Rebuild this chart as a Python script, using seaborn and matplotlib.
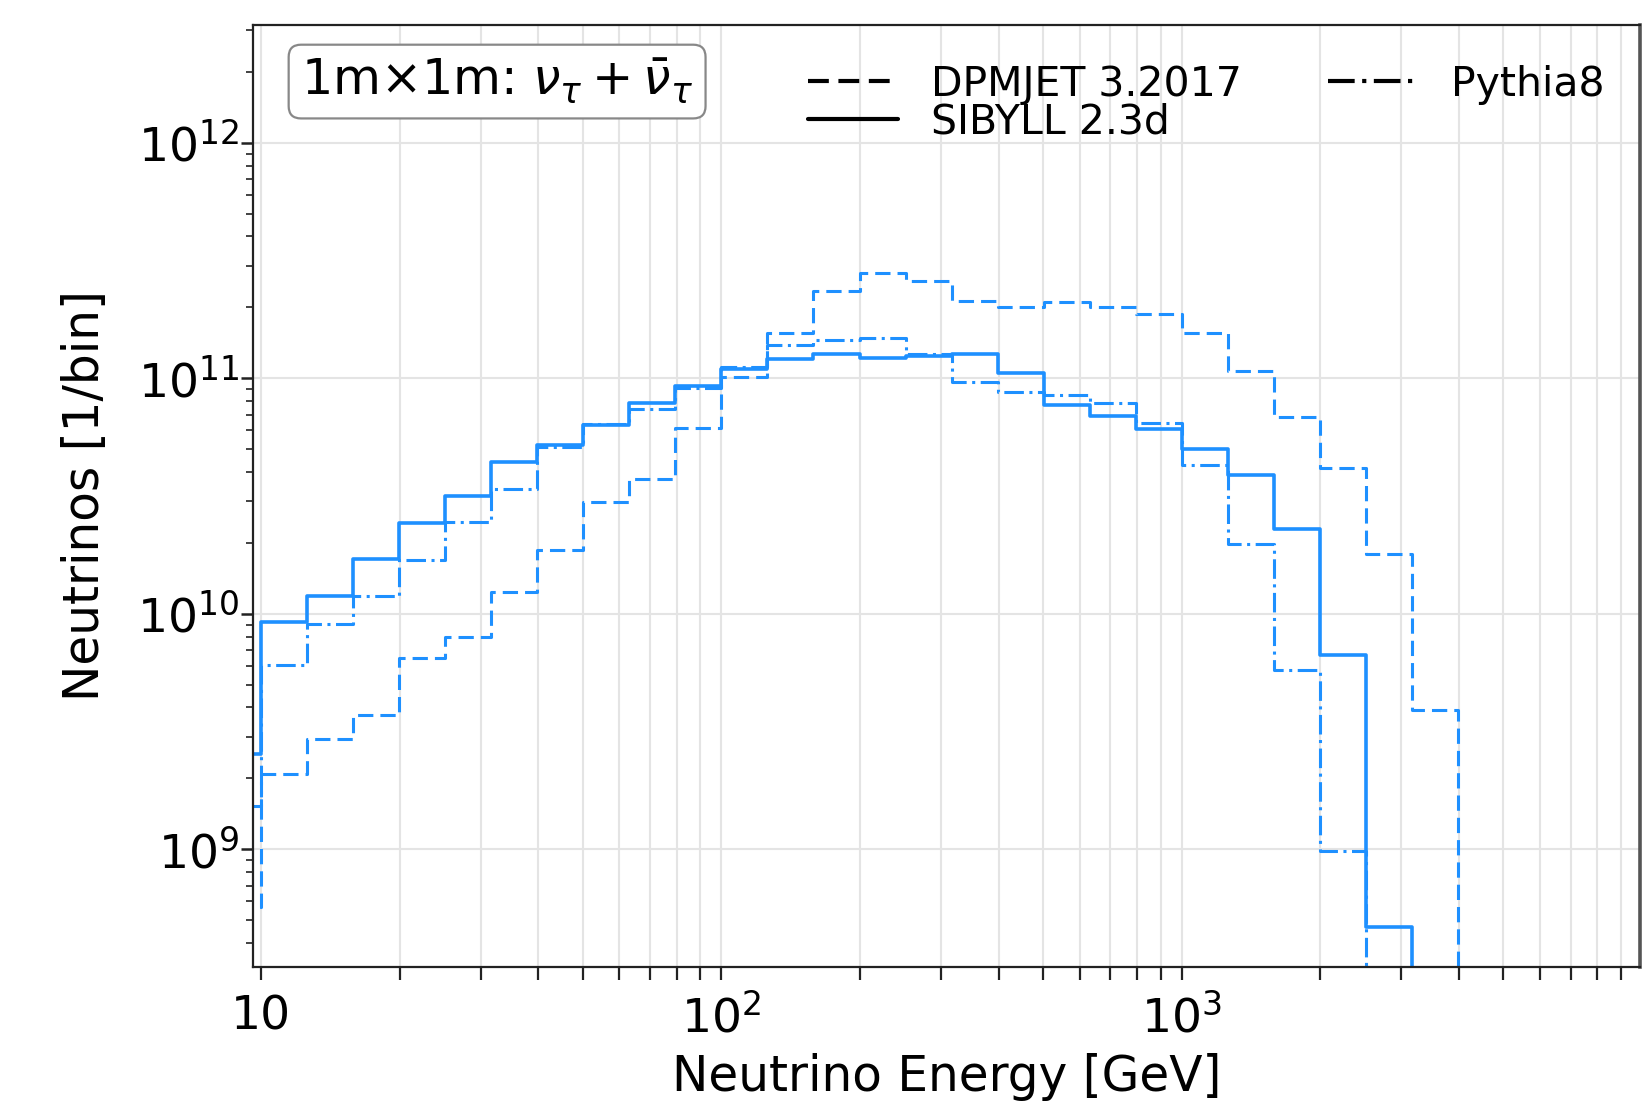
import numpy as np
import pandas as pd
import matplotlib
matplotlib.use("Agg")
import matplotlib.pyplot as plt
from matplotlib.lines import Line2D
import seaborn as sns

# Energy bins: ten log-spaced bins per decade, starting at 10^0.9 GeV
bin_edges = np.logspace(0.9, 3.6, 28)

# Neutrino counts per bin for each event generator
sibyll_counts = [2.54e9, 9.27e9, 1.19e10, 1.70e10, 2.43e10, 3.15e10, 4.40e10,
                 5.22e10, 6.33e10, 7.85e10, 9.25e10, 1.10e11, 1.21e11, 1.27e11,
                 1.22e11, 1.24e11, 1.27e11, 1.05e11, 7.67e10, 6.89e10, 6.11e10,
                 5.02e10, 3.90e10, 2.29e10, 6.67e9, 4.66e8, 0.0]
pythia_counts = [1.52e9, 6.05e9, 9.04e9, 1.19e10, 1.69e10, 2.45e10, 3.37e10,
                 5.10e10, 6.37e10, 7.43e10, 9.12e10, 1.12e11, 1.38e11, 1.45e11,
                 1.48e11, 1.27e11, 9.64e10, 8.74e10, 8.47e10, 7.88e10, 6.45e10,
                 4.29e10, 1.97e10, 5.78e9, 9.87e8, 0.0, 0.0]
dpmjet_counts = [5.66e8, 2.08e9, 2.95e9, 3.71e9, 6.48e9, 7.93e9, 1.24e10,
                 1.87e10, 2.98e10, 3.72e10, 6.15e10, 1.01e11, 1.56e11, 2.35e11,
                 2.81e11, 2.59e11, 2.13e11, 2.01e11, 2.11e11, 2.00e11, 1.87e11,
                 1.55e11, 1.07e11, 6.84e10, 4.17e10, 1.79e10, 3.90e9]

generator_labels = ["DPMJET 3.2017", "SIBYLL 2.3d", "Pythia8"]
x_tick_values = [10, 100, 1000]
x_tick_labels = ["10", "$10^2$", "$10^3$"]

LINE_COLOR = "#1e90ff"
DASHED = (0, (5, 2.3))
SOLID = "-"
DASHDOT = (0, (6.4, 1.8, 1.0, 1.8))

sns.set_style("ticks")
plt.rcParams["font.family"] = ["DejaVu Sans"]
plt.rcParams["mathtext.fontset"] = "dejavusans"
plt.rcParams["text.color"] = "black"
plt.rcParams["axes.labelcolor"] = "black"
plt.rcParams["xtick.color"] = "#222222"
plt.rcParams["ytick.color"] = "#222222"
plt.rcParams["xtick.labelcolor"] = "black"
plt.rcParams["ytick.labelcolor"] = "black"

fig, ax = plt.subplots(figsize=(16.44, 11.02), dpi=100)
fig.subplots_adjust(left=253 / 1644, right=1640 / 1644,
                    top=1 - 25 / 1102, bottom=1 - 967 / 1102)

series = [(dpmjet_counts, DASHED, 2.2),
          (sibyll_counts, SOLID, 2.6),
          (pythia_counts, DASHDOT, 2.2)]
for counts, ls, lw in series:
    df = pd.DataFrame({"energy": bin_edges,
                       "count": np.append(counts, 0.0)})
    sns.lineplot(data=df, x="energy", y="count", ax=ax, color=LINE_COLOR,
                 linewidth=lw, linestyle=ls, drawstyle="steps-post",
                 estimator=None, legend=False)

ax.set_xscale("log")
ax.set_yscale("log")
ax.set_xlim(9.6, 9900)
ax.set_ylim(10 ** 8.5, 10 ** 12.5)

ax.set_xticks(x_tick_values, labels=x_tick_labels)

ax.grid(which="both", axis="x", color="#e4e4e4", linewidth=1.5)
ax.grid(which="major", axis="y", color="#e4e4e4", linewidth=1.5)
ax.set_axisbelow(True)

for side in ["top", "bottom", "left", "right"]:
    ax.spines[side].set_visible(True)
    ax.spines[side].set_linewidth(1.6)
    ax.spines[side].set_color("#222222")
ax.spines["right"].set_linewidth(2.6)
ax.spines["right"].set_color("#555555")

ax.tick_params(axis="x", which="both", direction="out", length=9, width=1.6,
               labelsize=34, pad=11)
ax.tick_params(axis="y", which="major", direction="out", length=9, width=1.8,
               labelsize=34, pad=1)
ax.tick_params(axis="y", which="minor", direction="out", length=5, width=1.2)

ax.set_xlabel("Neutrino Energy [GeV]", fontsize=35, labelpad=8)
ax.set_ylabel("Neutrinos [1/bin]", fontsize=35, labelpad=20)

ax.text(0.0346, 0.966, "1m\u00d71m: $\\nu_\\tau + \\bar{\\nu}_\\tau$",
        transform=ax.transAxes, fontsize=35.5, ha="left", va="top",
        bbox=dict(boxstyle="round,pad=0.25", facecolor="white",
                  edgecolor="#888888", linewidth=1.6))

handles = [Line2D([], [], color="black", linewidth=3, linestyle=DASHED),
           Line2D([], [], color="black", linewidth=3, linestyle=SOLID),
           Line2D([], [], color="black", linewidth=3, linestyle=DASHDOT)]
ax.legend(handles, generator_labels, ncol=2, frameon=False, fontsize=29.5,
          loc="upper left", bbox_to_anchor=(0.40, 0.958),
          borderaxespad=0, borderpad=0, handlelength=2.2,
          handletextpad=0.8, columnspacing=2.1, labelspacing=-0.05)

fig.savefig("out.png", dpi=100)
